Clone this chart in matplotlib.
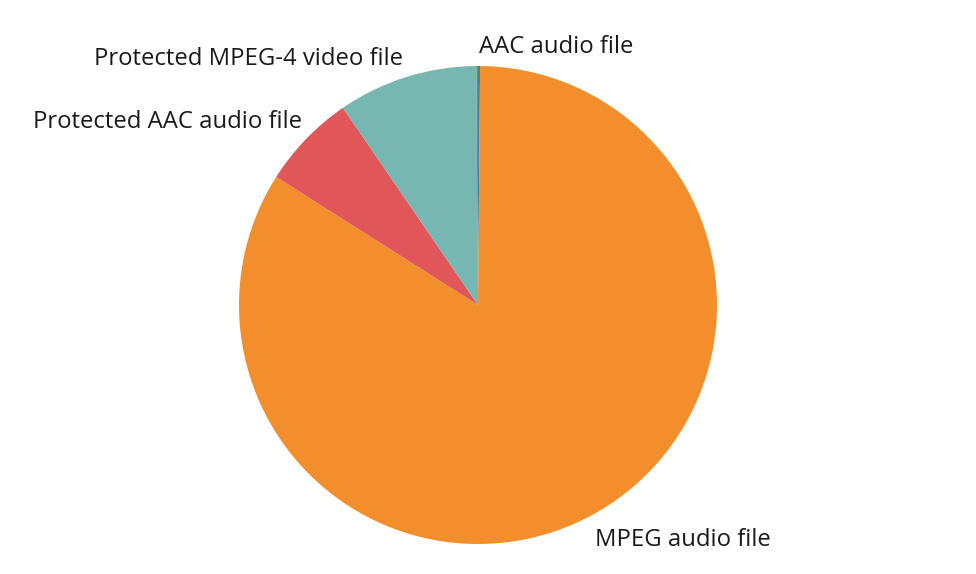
import matplotlib
matplotlib.use("Agg")
import matplotlib.pyplot as plt

# file types, clockwise from 12 o'clock
categories = ["AAC audio file", "MPEG audio file", "Protected AAC audio file",
              "Protected MPEG-4 video file", ""]
shares = [0.14, 83.86, 6.44, 9.45, 0.11]
colors = ["#4E79A7", "#F28E2B", "#E15759", "#76B7B2", "#59A14F"]

plt.rcParams['font.family'] = ['Open Sans', 'DejaVu Sans']

fig = plt.figure(figsize=(9.76, 5.74), dpi=100)
ax = fig.add_axes([239 / 976, 30 / 574, 478 / 976, 478 / 574])
ax.pie(shares, colors=colors, startangle=90, counterclock=False,
       wedgeprops=dict(linewidth=0))
ax.set_xlim(-1, 1)
ax.set_ylim(-1, 1)
ax.set_aspect('equal')
ax.axis('off')

# label positions in figure pixels (x, y from top, alignment)
label_pos = [(479, 47, 'left'), (595, 540, 'left'), (302, 122, 'right'),
             (403, 59, 'right'), None]
for name, pos in zip(categories, label_pos):
    if pos is None:
        continue
    x, y, ha = pos
    fig.text(x / 976, 1 - y / 574, name, ha=ha, va='center',
             fontsize=17.2, color='#1a1a1a')

fig.savefig("out.png", dpi=100)
